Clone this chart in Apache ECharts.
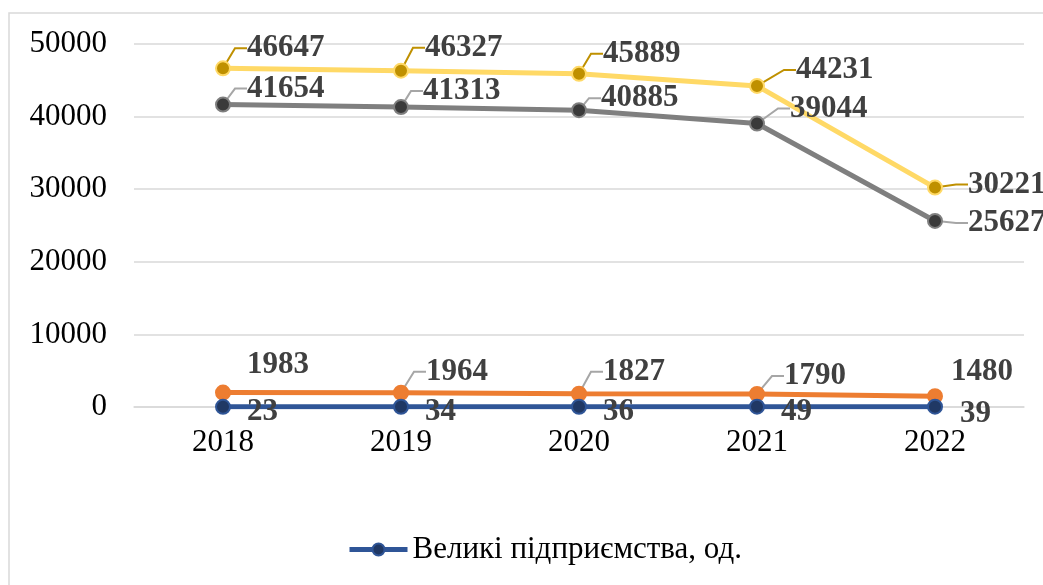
<!DOCTYPE html>
<html>
<head>
<meta charset="utf-8">
<script src="https://cdn.jsdelivr.net/npm/echarts@6/dist/echarts.min.js"></script>
<style>
    html, body { margin: 0; padding: 0; background: #fff; }
    #container { width: 1043px; height: 585px; }
</style>
</head>
<body>
<div id="container"></div>
<script type="text/javascript">
    // дані
    var years = ['2018', '2019', '2020', '2021', '2022'];
    var yTicks = [0, 10000, 20000, 30000, 40000, 50000];
    var large = [23, 34, 36, 49, 39];
    var medium = [1983, 1964, 1827, 1790, 1480];
    var small = [41654, 41313, 40885, 39044, 25627];
    var total = [46647, 46327, 45889, 44231, 30221];

    var fontFamily = '"Liberation Serif", "Times New Roman", serif';

    // зсув підписів (dx, dy) і чи є виноска
    var shifts = {
        total:  { dx: [11, 11, 11, 26, 20], dy: [-20, -23, -20, -16, -3], line: [1, 1, 1, 1, 1] },
        small:  { dx: [11, 9, 9, 20, 20], dy: [-16, -16, -12, -15, 2], line: [1, 1, 1, 1, 1] },
        medium: { dx: [11, 12, 11, 14, 3], dy: [-28, -21, -22, -18, -24], line: [0, 1, 1, 1, 0] },
        large:  { dx: [11, 11, 11, 11, 12], dy: [5, 5, 5, 5, 7], line: [0, 0, 0, 0, 0] }
    };

    function items(values, key) {
        return values.map(function (v, i) {
            return { value: v, labelLine: { show: !!shifts[key].line[i] } };
        });
    }

    function makeSeries(name, values, key, lineColor, markerColor, leaderColor) {
        return {
            name: name,
            type: 'line',
            data: items(values, key),
            symbol: 'circle',
            symbolSize: 14,
            lineStyle: { color: lineColor, width: 5 },
            itemStyle: { color: markerColor, borderColor: lineColor, borderWidth: 2 },
            label: {
                show: true,
                position: 'right',
                color: '#404040',
                fontFamily: fontFamily,
                fontWeight: 'bold',
                fontSize: 31
            },
            labelLine: {
                show: true,
                length2: 12,
                lineStyle: { color: leaderColor, width: 2 }
            },
            labelLayout: function (p) {
                return { dx: shifts[key].dx[p.dataIndex], dy: shifts[key].dy[p.dataIndex] };
            },
            emphasis: { disabled: true },
            animation: false
        };
    }

    var myChart = echarts.init(document.getElementById('container'));

    var option = {
        animation: false,
        graphic: [{
            type: 'rect',
            shape: { x: 9, y: 13, width: 1200, height: 800 },
            style: { fill: 'none', stroke: '#d9d9d9', lineWidth: 1.5 },
            silent: true
        }],
        grid: { left: 134, right: 19, top: 44, bottom: 178 },
        legend: {
            data: ['Великі підприємства, од.'],
            bottom: 15,
            left: 342,
            itemWidth: 58,
            itemHeight: 15,
            itemGap: 4,
            lineStyle: { width: 5 },
            textStyle: { fontFamily: fontFamily, fontSize: 31, color: '#000' }
        },
        xAxis: {
            type: 'category',
            data: years,
            axisLine: { lineStyle: { color: '#d9d9d9', width: 1.5 } },
            axisTick: { show: false },
            axisLabel: { color: '#000', fontFamily: fontFamily, fontSize: 31, margin: 20 }
        },
        yAxis: {
            type: 'value',
            min: yTicks[0],
            max: yTicks[yTicks.length - 1],
            interval: yTicks[1] - yTicks[0],
            axisLine: { show: false },
            axisTick: { show: false },
            splitLine: { lineStyle: { color: '#d9d9d9', width: 1.5 } },
            axisLabel: {
                color: '#000', fontFamily: fontFamily, fontSize: 31, margin: 27,
                formatter: function (v) { return String(v); }
            }
        },
        series: [
            makeSeries('Всього підприємств, од.', total, 'total', '#FFD966', '#BF9000', '#BF9000'),
            makeSeries('Малі підприємства, од.', small, 'small', '#7F7F7F', '#3A3A3A', '#A6A6A6'),
            makeSeries('Середні підприємства, од.', medium, 'medium', '#ED7D31', '#ED7D31', '#A6A6A6'),
            makeSeries('Великі підприємства, од.', large, 'large', '#2F5597', '#203864', '#A6A6A6')
        ]
    };

    myChart.setOption(option);
</script>
</body>
</html>
